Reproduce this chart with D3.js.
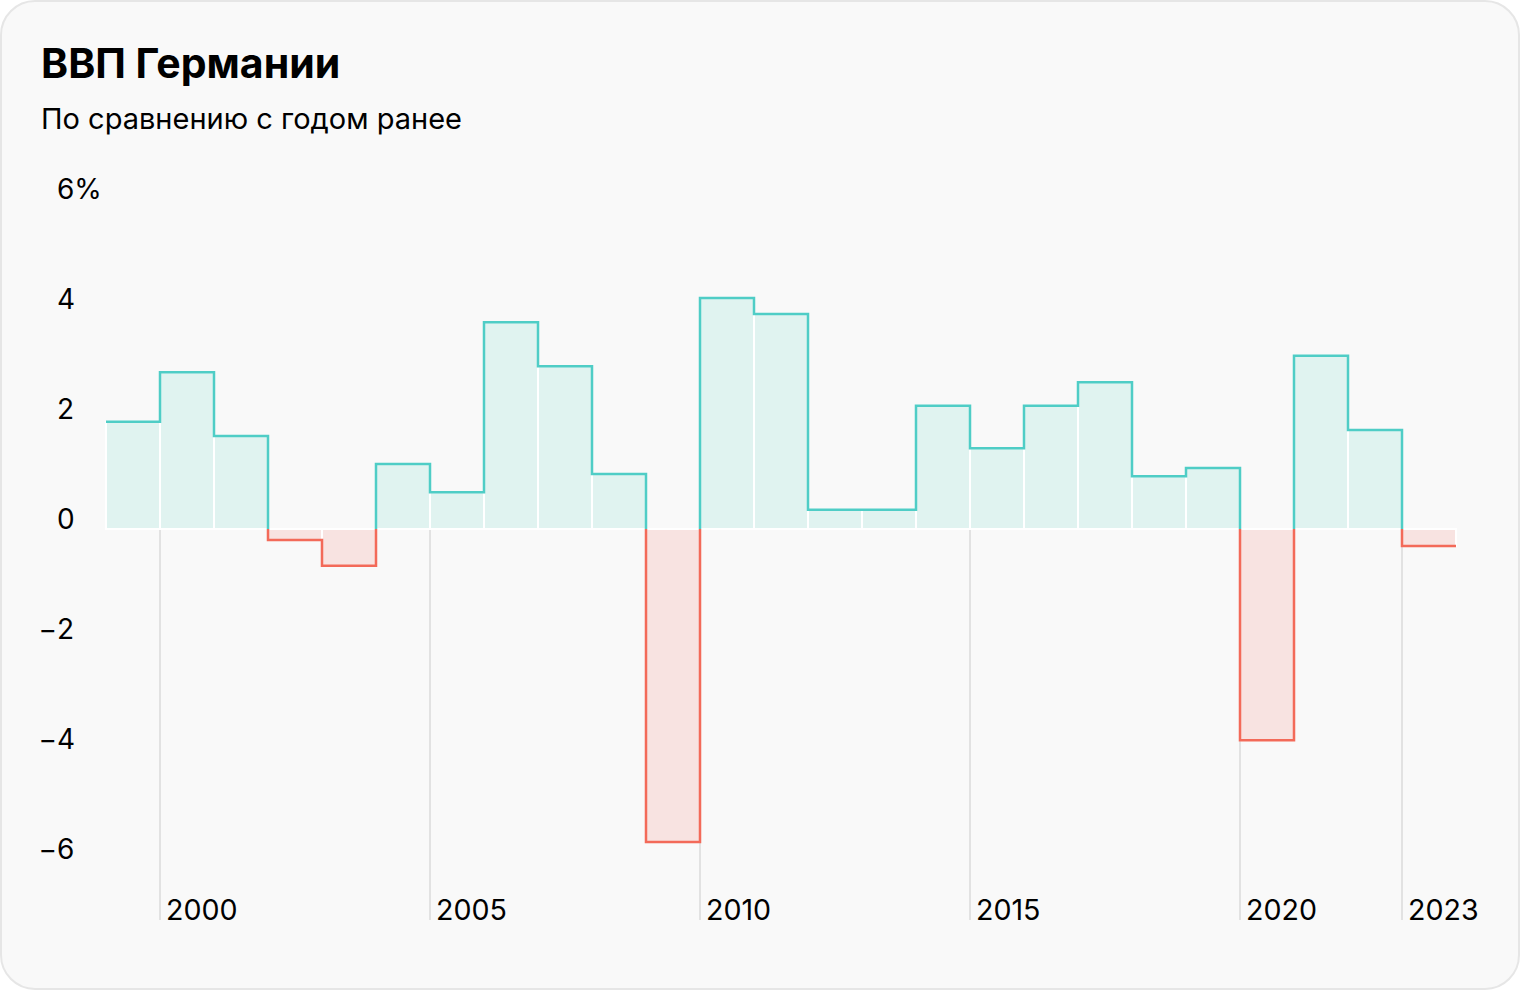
<!DOCTYPE html>
<html>
<head>
<meta charset="utf-8">
<script src="https://cdn.jsdelivr.net/npm/d3@7"></script>
<style>
  body { margin: 0; background: #fff; font-family: Inter, Roboto, sans-serif; }
  svg text { font-family: Inter, Roboto, sans-serif; fill: #000; }
</style>
</head>
<body>
<div class="chart"></div>
<script>
// ВВП Германии, % к предыдущему году
var years = [1999, 2000, 2001, 2002, 2003, 2004, 2005, 2006, 2007, 2008, 2009, 2010,
  2011, 2012, 2013, 2014, 2015, 2016, 2017, 2018, 2019, 2020, 2021, 2022, 2023];
var growth = [1.95, 2.85, 1.69, -0.2, -0.67, 1.18, 0.67, 3.76, 2.96, 1.0, -5.69, 4.2,
  3.91, 0.35, 0.35, 2.24, 1.47, 2.24, 2.67, 0.96, 1.11, -3.84, 3.15, 1.8, -0.31];
var yTicks = [6, 4, 2, 0, -2, -4, -6];
var yearTicks = [2000, 2005, 2010, 2015, 2020, 2023];

var svgWidth = 1520, svgHeight = 990;

var svg = d3.select(".chart").append("svg")
  .attr("width", svgWidth)
  .attr("height", svgHeight);

// card
svg.append("rect")
  .attr("x", 1).attr("y", 1)
  .attr("width", svgWidth - 2).attr("height", svgHeight - 2)
  .attr("rx", 34)
  .attr("fill", "#f9f9f9")
  .attr("stroke", "#e6e6e6")
  .attr("stroke-width", 2);

svg.append("text")
  .attr("x", 41).attr("y", 78)
  .attr("font-size", 41).attr("font-weight", 700)
  .text("ВВП Германии");

svg.append("text")
  .attr("x", 41).attr("y", 129)
  .attr("font-size", 29)
  .text("По сравнению с годом ранее");

// scales
var x = d3.scaleLinear().domain([1999, 2024]).range([106, 1456]);
var y = d3.scaleLinear().domain([-6, 6]).range([859, 199]);

var data = years.map(function (d, i) { return { year: d, value: growth[i] }; });

// y labels
var yLabels = svg.append("g");
yTicks.forEach(function (t) {
  yLabels.append("text")
    .attr("x", 57).attr("y", y(t))
    .attr("font-size", 28)
    .text(Math.abs(t) + (t == 6 ? "%" : ""));
  if (t < 0) {
    yLabels.append("text")
      .attr("x", 57).attr("y", y(t))
      .attr("font-size", 28)
      .attr("text-anchor", "end")
      .text("−");
  }
});

// year tick lines
svg.append("g").selectAll("line")
  .data(yearTicks)
  .enter()
  .append("line")
  .attr("x1", d => x(d)).attr("x2", d => x(d))
  .attr("y1", y(0)).attr("y2", 920)
  .attr("stroke", "#e2e2e2")
  .attr("stroke-width", 2);

svg.append("g").selectAll("text")
  .data(yearTicks)
  .enter()
  .append("text")
  .attr("x", d => x(d) + 6)
  .attr("y", 920)
  .attr("font-size", 28.6)
  .text(d => d);

// bar fills
svg.append("g").selectAll("rect")
  .data(data)
  .enter()
  .append("rect")
  .attr("x", d => x(d.year))
  .attr("width", x(2000) - x(1999))
  .attr("y", d => Math.min(y(d.value), y(0)))
  .attr("height", d => Math.abs(y(d.value) - y(0)))
  .attr("fill", d => d.value >= 0 ? "#e0f3f0" : "#f8e3e1")
  .attr("stroke", "#ffffff")
  .attr("stroke-width", 2);

// outline step line, coloured by sign
var stepPts = data.concat([{ year: 2024, value: growth[growth.length - 1] }]);
var stepLine = d3.line()
  .x(d => x(d.year))
  .y(d => y(d.value))
  .curve(d3.curveStepAfter);

var defs = svg.append("defs");
defs.append("clipPath").attr("id", "clipPos")
  .append("rect").attr("x", 0).attr("y", 0).attr("width", svgWidth).attr("height", y(0));
defs.append("clipPath").attr("id", "clipNeg")
  .append("rect").attr("x", 0).attr("y", y(0)).attr("width", svgWidth).attr("height", svgHeight);

svg.append("path")
  .datum(stepPts)
  .attr("d", stepLine)
  .attr("fill", "none")
  .attr("stroke", "#4fcdc6")
  .attr("stroke-width", 2.5)
  .attr("clip-path", "url(#clipPos)");

svg.append("path")
  .datum(stepPts)
  .attr("d", stepLine)
  .attr("fill", "none")
  .attr("stroke", "#f36a59")
  .attr("stroke-width", 2.5)
  .attr("clip-path", "url(#clipNeg)");
</script>
</body>
</html>
